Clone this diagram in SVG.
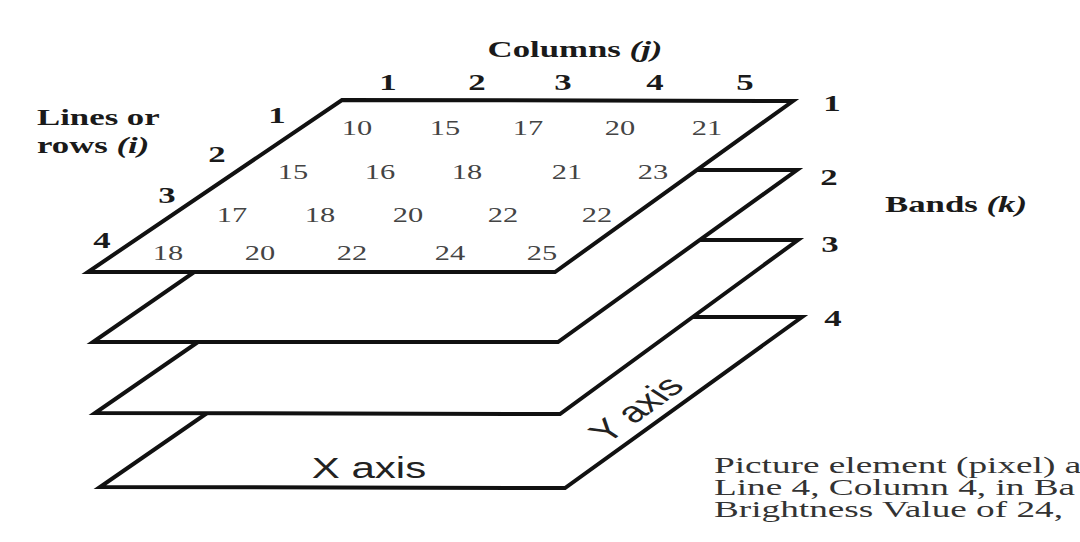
<svg xmlns="http://www.w3.org/2000/svg" width="1080" height="542" viewBox="0 0 1080 542">
<style>
.band{fill:#fff;stroke:#111;stroke-width:4;stroke-linejoin:miter;stroke-miterlimit:10}
.grid{stroke:#d4d4d4;stroke-width:1;fill:none}
.sx{transform-box:fill-box;transform-origin:center;transform:scaleX(1.45)}
.sl{transform-box:fill-box;transform-origin:0 0;transform:scaleX(1.45)}
.sc{transform-box:fill-box;transform-origin:0 0;transform:scaleX(1.62)}
.num{font-family:"Liberation Serif",serif;font-size:21px;fill:#444;text-anchor:middle}
.lab{font-family:"Liberation Serif",serif;font-size:24px;font-weight:bold;fill:#1a1a1a}
.mid{text-anchor:middle}
.axis{font-family:"Liberation Sans",Arial,sans-serif;font-size:29px;fill:#222;text-anchor:middle}
.cap{font-family:"Liberation Serif",serif;font-size:23px;fill:#333}
</style>
<rect width="1080" height="542" fill="#fff"/>
<g id="band4">
<polygon class="band" points="346,317 802,317 565,488 100,487"/>
<text class="axis sx" x="369" y="478">X axis</text>
<text class="axis" x="0" y="10" transform="translate(636,409) scale(1.45,1) rotate(-46.3)">Y axis</text>
</g>
<g id="band3">
<polygon class="band" points="346,240 798,240 560,414 95,413"/>
</g>
<g id="band2">
<polygon class="band" points="342,170 797,170 558,342 93,342"/>
</g>
<g id="band1">
<polygon points="342,100 793,101 555,272 88,272" fill="#fff"/>
<g class="grid">
<line x1="268" y1="150" x2="725" y2="150"/>
<line x1="202" y1="195" x2="662" y2="195"/>
<line x1="140" y1="237" x2="604" y2="237"/>
<line x1="432" y1="100" x2="181" y2="272"/>
<line x1="522" y1="100" x2="275" y2="272"/>
<line x1="612" y1="100" x2="368" y2="272"/>
<line x1="703" y1="101" x2="461" y2="272"/>
</g>
<polygon class="band" points="342,100 793,101 555,272 88,272" fill="none"/>
<g id="values">
<text class="num sx" x="357" y="135">10</text>
<text class="num sx" x="445" y="135">15</text>
<text class="num sx" x="528" y="135">17</text>
<text class="num sx" x="620" y="135">20</text>
<text class="num sx" x="707" y="135">21</text>
<text class="num sx" x="293" y="179">15</text>
<text class="num sx" x="380" y="179">16</text>
<text class="num sx" x="467" y="179">18</text>
<text class="num sx" x="567" y="179">21</text>
<text class="num sx" x="653" y="179">23</text>
<text class="num sx" x="232" y="222">17</text>
<text class="num sx" x="320" y="222">18</text>
<text class="num sx" x="408" y="222">20</text>
<text class="num sx" x="503" y="222">22</text>
<text class="num sx" x="597" y="222">22</text>
<text class="num sx" x="168" y="260">18</text>
<text class="num sx" x="260" y="260">20</text>
<text class="num sx" x="352" y="260">22</text>
<text class="num sx" x="450" y="260">24</text>
<text class="num sx" x="542" y="260">25</text>
</g>
</g>
<g id="columns-label">
<text class="lab mid sx" x="575" y="57">Columns <tspan font-style="italic">(j)</tspan></text>
<text class="lab mid sx" x="388" y="90">1</text>
<text class="lab mid sx" x="477" y="90">2</text>
<text class="lab mid sx" x="563" y="90">3</text>
<text class="lab mid sx" x="655" y="90">4</text>
<text class="lab mid sx" x="745" y="90">5</text>
</g>
<g id="rows-label">
<text class="lab sl" x="37" y="125">Lines or</text>
<text class="lab sl" x="37" y="153">rows <tspan font-style="italic">(i)</tspan></text>
<text class="lab mid sx" x="277" y="123">1</text>
<text class="lab mid sx" x="217" y="162">2</text>
<text class="lab mid sx" x="167" y="203">3</text>
<text class="lab mid sx" x="102" y="248">4</text>
</g>
<g id="bands-label">
<text class="lab mid sx" x="956" y="212">Bands <tspan font-style="italic">(k)</tspan></text>
<text class="lab mid sx" x="832" y="111">1</text>
<text class="lab mid sx" x="829" y="185">2</text>
<text class="lab mid sx" x="830" y="252">3</text>
<text class="lab mid sx" x="833" y="326">4</text>
</g>
<g id="caption">
<text class="cap sc" x="714" y="473">Picture element (pixel) a</text>
<text class="cap sc" x="714" y="495">Line 4, Column 4, in Ba</text>
<text class="cap sc" x="714" y="517">Brightness Value of 24,</text>
</g>
</svg>
